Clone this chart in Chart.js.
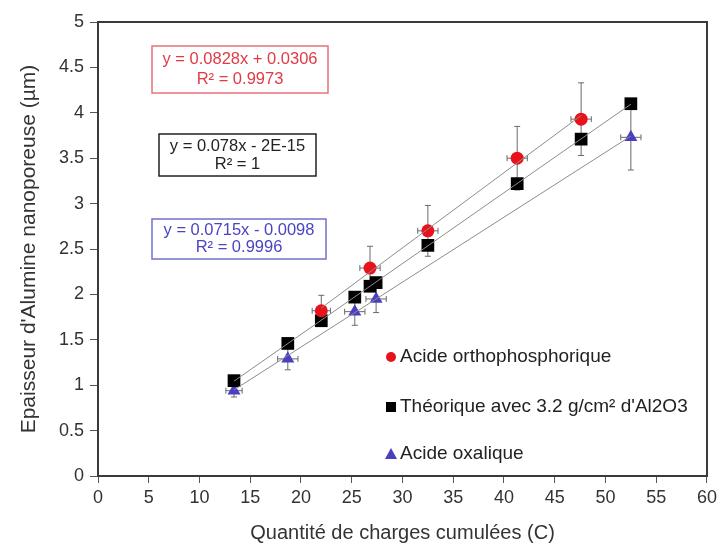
<!DOCTYPE html>
<html>
<head>
<meta charset="utf-8">
<script src="https://cdn.jsdelivr.net/npm/chart.js@4.4.0/dist/chart.umd.min.js"></script>
<style>
  body { margin: 0; background: #fff; }
  #wrap { width: 721px; height: 551px; position: relative; }
</style>
</head>
<body>
<div id="wrap"><canvas id="chart"></canvas></div>
<script>
// data
const xOrtho = [22, 26.8, 32.5, 41.3, 47.6];
const yOrtho = [1.82, 2.29, 2.70, 3.50, 3.93];
const yErrOrtho = [0.17, 0.24, 0.28, 0.35, 0.40];
const xErrOrtho = [0.9, 1, 1, 1, 1];

const xTheo = [13.4, 18.7, 22, 25.3, 26.8, 27.4, 32.5, 41.3, 47.6, 52.5];
const yTheo = [1.05, 1.46, 1.71, 1.97, 2.09, 2.13, 2.54, 3.22, 3.71, 4.10];

const xOxa = [13.4, 18.7, 25.3, 27.4, 52.5];
const yOxa = [0.94, 1.29, 1.81, 1.95, 3.73];
const yErrOxa = [0.07, 0.12, 0.15, 0.15, 0.36];
const xErrOxa = [0.8, 1, 1, 1, 1];

// trend line end points
const trendOrthoX = [22, 47.6];
const trendOrthoY = [1.85, 3.97];
const trendTheoX = [13.4, 52.5];
const trendTheoY = [1.045, 4.095];
const trendOxaX = [13.4, 52.5];
const trendOxaY = [0.948, 3.744];

const yTicks = ['0', '0.5', '1', '1.5', '2', '2.5', '3', '3.5', '4', '4.5', '5'];
const xTicks = ['0', '5', '10', '15', '20', '25', '30', '35', '40', '45', '50', '55', '60'];

const seriesNames = ['Acide orthophosphorique', 'Théorique avec 3.2 g/cm² d\'Al2O3', 'Acide oxalique'];
const eqOrtho = ['y = 0.0828x + 0.0306', 'R² = 0.9973'];
const eqTheo = ['y = 0.078x - 2E-15', 'R² = 1'];
const eqOxa = ['y = 0.0715x - 0.0098', 'R² = 0.9996'];

const FONT = '"Liberation Sans", Arial, sans-serif';
const RED = '#e8121c';
const BLUE = '#4a3fc0';

function pts(xs, ys) {
  return xs.map((x, i) => ({ x: x, y: ys[i] }));
}

function trend(xs, ys) {
  return {
    type: 'line', data: pts(xs, ys), borderColor: '#8c8c8c', borderWidth: 1,
    pointRadius: 0, fill: false, showLine: true
  };
}

const errorBars = {
  id: 'errorBars',
  beforeDatasetsDraw(chart) {
    const ctx = chart.ctx;
    const xs = chart.scales.x, ys = chart.scales.y;
    const sets = [[xOrtho, yOrtho, xErrOrtho, yErrOrtho], [xOxa, yOxa, xErrOxa, yErrOxa]];
    ctx.save();
    ctx.strokeStyle = '#6a6a6a';
    ctx.lineWidth = 1;
    sets.forEach(s => {
      s[0].forEach((xv, i) => {
        const px = xs.getPixelForValue(xv), py = ys.getPixelForValue(s[1][i]);
        const t = ys.getPixelForValue(s[1][i] + s[3][i]);
        const b = ys.getPixelForValue(s[1][i] - s[3][i]);
        const l = xs.getPixelForValue(xv - s[2][i]);
        const r = xs.getPixelForValue(xv + s[2][i]);
        ctx.beginPath();
        ctx.moveTo(px, t); ctx.lineTo(px, b);
        ctx.moveTo(px - 3, t); ctx.lineTo(px + 3, t);
        ctx.moveTo(px - 3, b); ctx.lineTo(px + 3, b);
        ctx.moveTo(l, py); ctx.lineTo(r, py);
        ctx.moveTo(l, py - 3); ctx.lineTo(l, py + 3);
        ctx.moveTo(r, py - 3); ctx.lineTo(r, py + 3);
        ctx.stroke();
      });
    });
    ctx.restore();
  }
};

const extras = {
  id: 'extras',
  afterDraw(chart) {
    const ctx = chart.ctx;
    const a = chart.chartArea;
    ctx.save();
    // plot frame
    ctx.strokeStyle = '#3a3a3a';
    ctx.lineWidth = 2;
    ctx.strokeRect(a.left, a.top, a.right - a.left, a.bottom - a.top);

    // equation boxes
    function box(x, y, w, h, border, color, lines) {
      ctx.fillStyle = '#fff';
      ctx.fillRect(x, y, w, h);
      ctx.strokeStyle = border;
      ctx.lineWidth = 1.5;
      ctx.strokeRect(x, y, w, h);
      ctx.fillStyle = color;
      ctx.font = '16.5px ' + FONT;
      ctx.textAlign = 'center';
      ctx.textBaseline = 'middle';
      ctx.fillText(lines[0], x + w / 2, y + h * 0.29);
      ctx.fillText(lines[1], x + w / 2, y + h * 0.72);
    }
    box(152, 46, 176, 47, '#e8707a', '#e03a44', eqOrtho);
    box(159, 134, 157, 42, '#222', '#222', eqTheo);
    box(152, 219, 174, 40, '#7070c8', '#4a44c0', eqOxa);

    // legend
    ctx.font = '19px ' + FONT;
    ctx.textAlign = 'left';
    ctx.textBaseline = 'middle';
    const ly = [357, 407, 454];
    const lx = 391;
    ctx.fillStyle = RED;
    ctx.beginPath(); ctx.arc(lx, ly[0], 5, 0, Math.PI * 2); ctx.fill();
    ctx.fillStyle = '#000';
    ctx.fillRect(lx - 5, ly[1] - 5, 10, 10);
    ctx.fillStyle = BLUE;
    ctx.beginPath();
    ctx.moveTo(lx, ly[2] - 6); ctx.lineTo(lx + 6, ly[2] + 5); ctx.lineTo(lx - 6, ly[2] + 5);
    ctx.closePath(); ctx.fill();
    ctx.fillStyle = '#222';
    seriesNames.forEach((n, i) => ctx.fillText(n, lx + 9, ly[i]));
    ctx.restore();
  }
};

new Chart(document.getElementById('chart'), {
  type: 'scatter',
  data: {
    datasets: [
      trend(trendOrthoX, trendOrthoY),
      trend(trendTheoX, trendTheoY),
      trend(trendOxaX, trendOxaY),
      {
        label: seriesNames[0], data: pts(xOrtho, yOrtho), pointStyle: 'circle',
        pointRadius: 6.5, backgroundColor: RED, borderColor: RED, borderWidth: 0
      },
      {
        label: seriesNames[1], data: pts(xTheo, yTheo), pointStyle: 'rect',
        pointRadius: 9, backgroundColor: '#000', borderColor: '#000', borderWidth: 0
      },
      {
        label: seriesNames[2], data: pts(xOxa, yOxa), pointStyle: 'triangle',
        pointRadius: 7.5, backgroundColor: BLUE, borderColor: BLUE, borderWidth: 0
      }
    ]
  },
  options: {
    responsive: true,
    maintainAspectRatio: false,
    animation: false,
    layout: { padding: { top: 22, right: 13, left: 0, bottom: 0 } },
    plugins: { legend: { display: false }, tooltip: { enabled: false } },
    scales: {
      x: {
        type: 'linear', min: 0, max: 60,
        afterFit(s) { s.height = 75; },
        afterBuildTicks(s) { s.ticks = xTicks.map(v => ({ value: Number(v) })); },
        grid: { drawOnChartArea: false, drawTicks: true, tickLength: 7, color: '#555' },
        border: { display: false },
        ticks: {
          font: { family: FONT, size: 18 }, color: '#333', padding: 4, maxRotation: 0,
          callback: (v, i) => xTicks[i]
        },
        title: {
          display: true, text: 'Quantité de charges cumulées (C)',
          font: { family: FONT, size: 20 }, color: '#333', padding: { top: 6, bottom: 6 }
        }
      },
      y: {
        type: 'linear', min: 0, max: 5,
        afterFit(s) { s.width = 98; },
        afterBuildTicks(s) { s.ticks = yTicks.map(v => ({ value: Number(v) })); },
        grid: { drawOnChartArea: false, drawTicks: true, tickLength: 8, color: '#555' },
        border: { display: false },
        ticks: {
          font: { family: FONT, size: 18 }, color: '#333', padding: 6,
          callback: (v, i) => yTicks[i]
        },
        title: {
          display: true, text: 'Epaisseur d\'Alumine nanoporeuse (µm)',
          font: { family: FONT, size: 21 }, color: '#333', padding: { top: 17, bottom: 17 }
        }
      }
    }
  },
  plugins: [errorBars, extras]
});
</script>
</body>
</html>
